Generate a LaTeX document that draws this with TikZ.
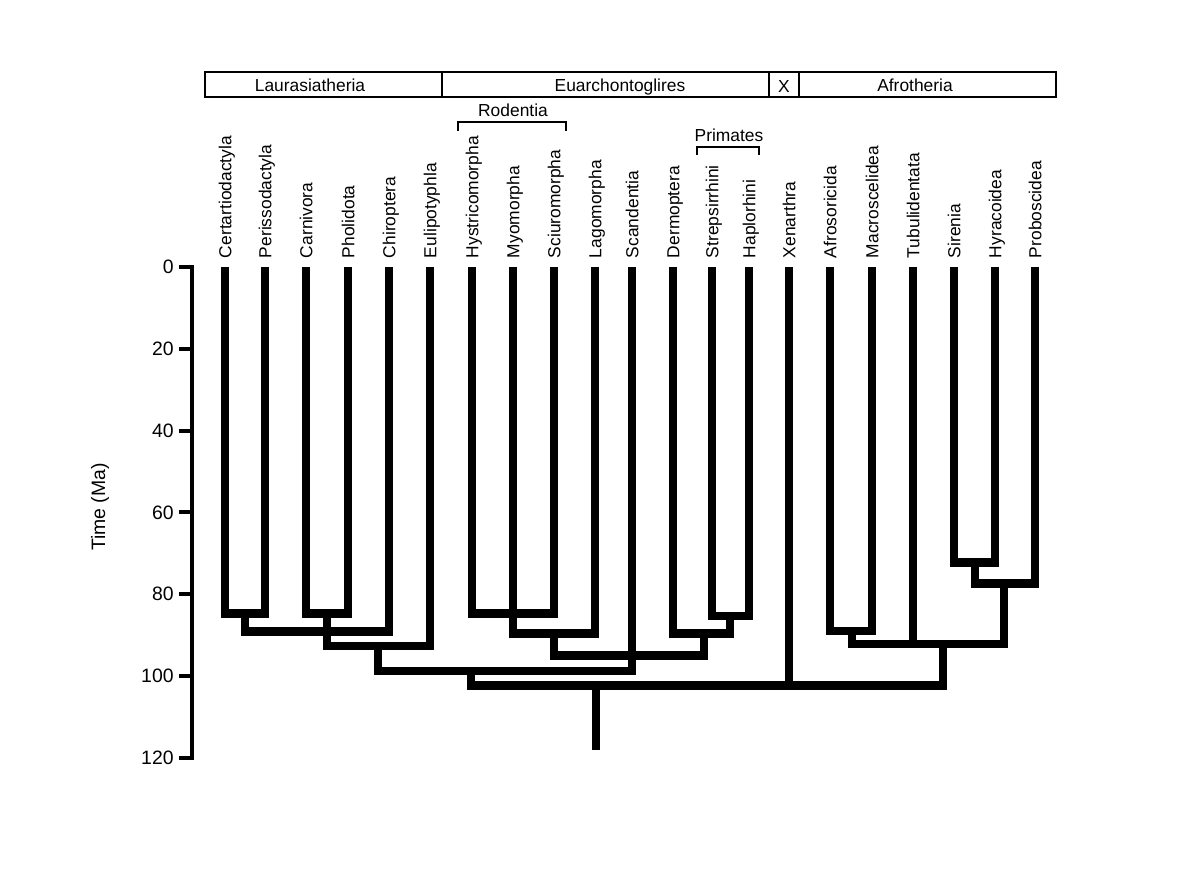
\documentclass[tikz,border=0pt]{standalone}
\usepackage{fontspec}
\setmainfont{Liberation Sans}
\tikzset{
  branch/.style={line width=4.3pt},
  taxon/.style={rotate=90, anchor=west, inner xsep=4.5pt, inner ysep=0pt, outer sep=0pt,
    text height=6.3pt, text depth=0pt, font=\fontsize{8.7}{10}\selectfont},
  clade/.style={anchor=base, inner sep=0pt, font=\fontsize{8.7}{10}\selectfont},
  tick/.style={anchor=east, inner sep=0pt, font=\fontsize{9.7}{11}\selectfont},
  axis/.style={line width=2pt},
  bracket/.style={line width=0.8pt},
}

\begin{document}
\begin{tikzpicture}[x=0.5pt,y=-0.5pt]
  \path[use as bounding box] (0,0) rectangle (1200,872);
  \fill[white] (0,0) rectangle (1200,872);

  % superorder boxes
  \draw[line width=1.1pt] (205,72) rectangle (1056,97);
  \foreach \x in {442,769,799}{
    \draw[line width=1.1pt] (\x,72) -- (\x,97);
  }
  \node[clade] (laurasia) at (310,92) {Laurasiatheria};
  \node[clade] (euarch) at (620,92) {Euarchontoglires};
  \node[clade] (xenbox) at (784,93) {X};
  \node[clade] (afro) at (915,92) {Afrotheria};

  % order brackets
  \draw[bracket] (458,131) |- (566,122) -- (566,131);
  \node[clade] (rodentia) at (513,117) {Rodentia};
  \draw[bracket] (697,155) |- (759,147) -- (759,155);
  \node[clade] (primates) at (729,141) {Primates};

  \node[rotate=90, font=\fontsize{9.7}{11}\selectfont] (time) at (100,507) {Time (Ma)};

  \begin{scope}[shift={(0,267)}, yscale=4.09]
    % time axis
    \draw[axis] (179,0) -- (192,0) -- (192,120) -- (179,120);
    \foreach \t in {20,40,...,100}{
      \draw[axis] (179,\t) -- (192,\t);
    }
    \foreach \t in {0,20,...,120}{
      \node[tick] (tick\t) at (174,\t) {\t};
    }

    % taxa
    \node[taxon] (cet) at (225,0) {Certartiodactyla};
    \node[taxon] (per) at (265,0) {Perissodactyla};
    \node[taxon] (car) at (306,0) {Carnivora};
    \node[taxon] (pho) at (348,0) {Pholidota};
    \node[taxon] (chi) at (389,0) {Chiroptera};
    \node[taxon] (eul) at (430,0) {Eulipotyphla};
    \node[taxon] (hys) at (472,0) {Hystricomorpha};
    \node[taxon] (myo) at (513,0) {Myomorpha};
    \node[taxon] (sci) at (554,0) {Sciuromorpha};
    \node[taxon] (lag) at (595,0) {Lagomorpha};
    \node[taxon] (sca) at (632,0) {Scandentia};
    \node[taxon] (der) at (673,0) {Dermoptera};
    \node[taxon] (str) at (712,0) {Strepsirrhini};
    \node[taxon] (hap) at (749,0) {Haplorhini};
    \node[taxon] (xen) at (789,0) {Xenarthra};
    \node[taxon] (afs) at (830,0) {Afrosoricida};
    \node[taxon] (mac) at (872,0) {Macroscelidea};
    \node[taxon] (tub) at (913,0) {Tubulidentata};
    \node[taxon] (sir) at (954,0) {Sirenia};
    \node[taxon] (hyr) at (995,0) {Hyracoidea};
    \node[taxon] (pro) at (1035,0) {Proboscidea};

    % internal nodes (x, Ma)
    \coordinate (cp) at (245,84.8);
    \coordinate (cph) at (327,84.8);
    \coordinate (cpc) at (317,89.2);
    \coordinate (cphe) at (378,92.7);
    \coordinate (bor) at (471,98.8);
    \coordinate (rod) at (513,84.8);
    \coordinate (gli) at (554,89.7);
    \coordinate (pri) at (730,85.3);
    \coordinate (dpr) at (704,89.7);
    \coordinate (eua) at (632,95.0);
    \coordinate (afi) at (852,89.0);
    \coordinate (sh) at (975,72.2);
    \coordinate (pae) at (1004,77.4);
    \coordinate (afr) at (943,92.2);
    \coordinate (root) at (596,102.4);
    \coordinate (base) at (596,118.1);

    % Laurasiatheria
    \draw[branch] (cet.west) |- (cp) -| (per.west);
    \draw[branch] (car.west) |- (cph) -| (pho.west);
    \draw[branch] (cp) |- (cpc) -| (chi.west);
    \draw[branch] (cph) |- (cphe) -| (eul.west);
    \draw[branch] (cphe) |- (bor) -| (sca.west);
    % Euarchontoglires
    \draw[branch] (hys.west) |- (rod) -| (sci.west);
    \draw[branch] (myo.west) |- (gli) -| (lag.west);
    \draw[branch] (str.west) |- (pri) -| (hap.west);
    \draw[branch] (pri) |- (dpr) -| (der.west);
    \draw[branch] (gli) |- (eua) -| (dpr);
    % Afrotheria
    \draw[branch] (afs.west) |- (afi) -| (mac.west);
    \draw[branch] (sir.west) |- (sh) -| (hyr.west);
    \draw[branch] (sh) |- (pae) -| (pro.west);
    \draw[branch] (afi) |- (afr) -| (pae);
    \draw[branch] (tub.west) -- (tub.west |- afr);
    % root
    \draw[branch] (bor) |- (root) -| (afr);
    \draw[branch] (xen.west) -- (xen.west |- root);
    \draw[branch] (root) -- (base);
  \end{scope}
\end{tikzpicture}
\end{document}
